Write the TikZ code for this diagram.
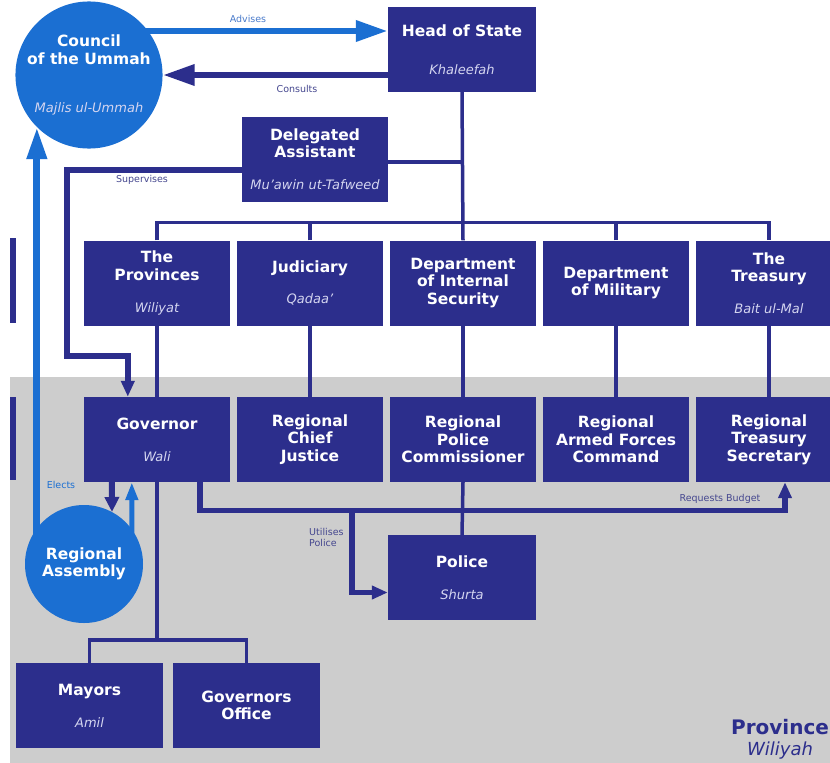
\documentclass[tikz,border=0pt]{standalone}
\usepackage{fontspec}
\setmainfont{DejaVu Sans}
\usetikzlibrary{arrows.meta,calc}
\definecolor{navy}{HTML}{2C2E8C}
\definecolor{brightblue}{HTML}{1B6FD2}
\definecolor{bggray}{HTML}{CDCDCD}
\definecolor{paletext}{HTML}{D4D5F0}
\definecolor{lbltext}{HTML}{45478F}
\definecolor{lblblue}{HTML}{4A7BCB}
\pgfdeclarelayer{edges}
\pgfsetlayers{edges,main}
\newcommand\ittext[1]{{\fontsize{13}{15}\selectfont\mdseries\itshape\color{paletext}#1}}

\begin{document}
\begin{tikzpicture}[x=1pt,y=-1pt,
  box/.style={fill=navy, minimum width=146pt, minimum height=85pt, inner sep=0pt,
    align=center, text=white, font=\fontsize{15.5}{17.5}\selectfont\bfseries},
  disc/.style={circle, fill=brightblue, inner sep=0pt, align=center, text=white,
    font=\fontsize{15.5}{17.5}\selectfont\bfseries},
  org/.style={draw=navy, line width=3.5pt},
  flow/.style={draw=navy, line width=5.5pt, -{Triangle[length=16pt,width=13pt]}},
  bigflow/.style={line width=6.5pt, -{Triangle[length=32pt,width=20pt]}},
  lbl/.style={inner sep=0pt, font=\fontsize{9.5}{11}\selectfont, text=lbltext},
]
\useasboundingbox (0,0) rectangle (830,763);

% central government
\node[disc, minimum size=142pt] (council) at (89,75)
  {Council\\of the Ummah\\[31pt]\ittext{Majlis ul-Ummah}};
\node[box, minimum width=148pt] (hos) at (462,49.5)
  {Head of State\\[20.5pt]\ittext{Khaleefah}};
\node[box] (da) at (315,159)
  {Delegated\\Assistant\\[14.5pt]\ittext{Mu'awin ut-Tafweed}};

% departments
\node[box] (prov) at (157,283) {The\\Provinces\\[14.5pt]\ittext{Wiliyat}};
\node[box] (jud)  at (310,283) {Judiciary\\[13.5pt]\ittext{Qadaa'}};
\node[box] (ins)  at (463,283) {Department\\of Internal\\Security};
\node[box] (mil)  at (616,283) {Department\\of Military};
\node[box] (tre)  at (769,283) {The\\Treasury\\[14.5pt]\ittext{Bait ul-Mal}};

% regional offices
\node[box] (gov)  at (157,439.5) {Governor\\[14.5pt]\ittext{Wali}};
\node[box] (rcj)  at (310,439.5) {Regional\\Chief\\Justice};
\node[box] (rpc)  at (463,439.5) {Regional\\Police\\Commissioner};
\node[box] (rafc) at (616,439.5) {Regional\\Armed Forces\\Command};
\node[box] (rts)  at (769,439.5) {Regional\\Treasury\\Secretary};

\node[box, minimum width=148pt] (pol) at (462,577.5) {Police\\[14.5pt]\ittext{Shurta}};
\node[disc, minimum size=118pt] (ra) at (84,564) {Regional\\Assembly};
\node[box, minimum width=147pt] (may) at (89.5,705.5) {Mayors\\[14.5pt]\ittext{Amil}};
\node[box, minimum width=147pt] (gof) at (246.5,705.5) {Governors\\Office};

\node[align=center, text=navy, inner sep=0pt, font=\fontsize{20}{21}\selectfont] (wlabel) at (780,739)
  {{\bfseries Province}\\{\fontsize{18}{21}\selectfont\itshape Wiliyah}};

% connector labels
\node[lbl, text=lblblue] (advlbl) at (248,19) {Advises};
\node[lbl] (conlbl) at (297,89) {Consults};
\node[lbl] (suplbl) at (142,180) {Supervises};
\node[lbl, text=brightblue] (elelbl) at (61,485) {Elects};
\node[lbl] (reqlbl) at (720,499) {Requests Budget};
\node[lbl, align=left, anchor=north west] (utillbl) at (309,528) {Utilises\\Police};

\begin{pgfonlayer}{edges}
  % backdrop
  \fill[white] (0,0) rectangle (830,763);
  \fill[bggray] (10,377) rectangle (830,763);
  \fill[navy] (10,238) rectangle (16,323);
  \fill[navy] (10,397) rectangle (16,480);

  % council and head of state
  \coordinate (advtip) at ($(hos.west)+(0,-18.5)$);
  \draw[bigflow, draw=brightblue] (council.center |- advtip) -- (advtip);
  \draw[bigflow, draw=navy] (council.east -| hos.west) -- (council.east);

  % hierarchy
  \coordinate (bus) at ($(prov.north)+(0,-18)$);
  \draw[org] (hos.south) -- (ins.north);
  \draw[org] ($(da.east)+(0,3)$) -- ($(da.east -| hos.south)+(0,3)$);
  \draw[org] (prov.north) -- (bus) -| (tre.north);
  \draw[org] (jud.north) -- (jud.north |- bus);
  \draw[org] (mil.north) -- (mil.north |- bus);
  \draw[org] (prov.south) -- (gov.north);
  \draw[org] (jud.south) -- (rcj.north);
  \draw[org] (ins.south) -- (rpc.north);
  \draw[org] (mil.south) -- (rafc.north);
  \draw[org] (tre.south) -- (rts.north);
  \draw[org] (rpc.south) -- (pol.north);

  % supervision of the governor
  \coordinate (supbend) at (67,356);
  \coordinate (suptip) at ($(gov.north west)+(44,0)$);
  \draw[flow] ($(da.west)+(0,11)$) -| (supbend) -| (suptip);

  % elections
  \draw[draw=brightblue, line width=7pt, -{Triangle[length=32pt,width=19pt]}]
    (council.south west |- ra.center) -- (council.south west);
  \draw[draw=navy, line width=6pt, -{Triangle[length=15pt,width=14pt]}]
    ($(gov.south west)+(28,0)$) -- ($(ra.center)+(28,-52)$);
  \draw[draw=brightblue, line width=5pt, -{Triangle[length=18pt,width=12pt]}]
    ($(ra.center)+(48,0)$) -- ($(gov.south west)+(48,0)$);

  % local administration
  \coordinate (mbus) at ($(may.north)+(0,-23)$);
  \draw[org] (may.north) -- (mbus) -| (gof.north);
  \draw[org] (gov.south) -- (gov.south |- mbus);

  % budget and police
  \coordinate (bstart) at ($(gov.south)+(43,0)$);
  \coordinate (btip) at ($(rts.south)+(16,0)$);
  \coordinate (ubranch) at ($(gov.south)+(195,28.5)$);
  \draw[flow] (bstart) -- ++(0,28.5) -| (btip);
  \draw[flow] (ubranch) |- ($(pol.west)+(0,15)$);
\end{pgfonlayer}
\end{tikzpicture}
\end{document}
